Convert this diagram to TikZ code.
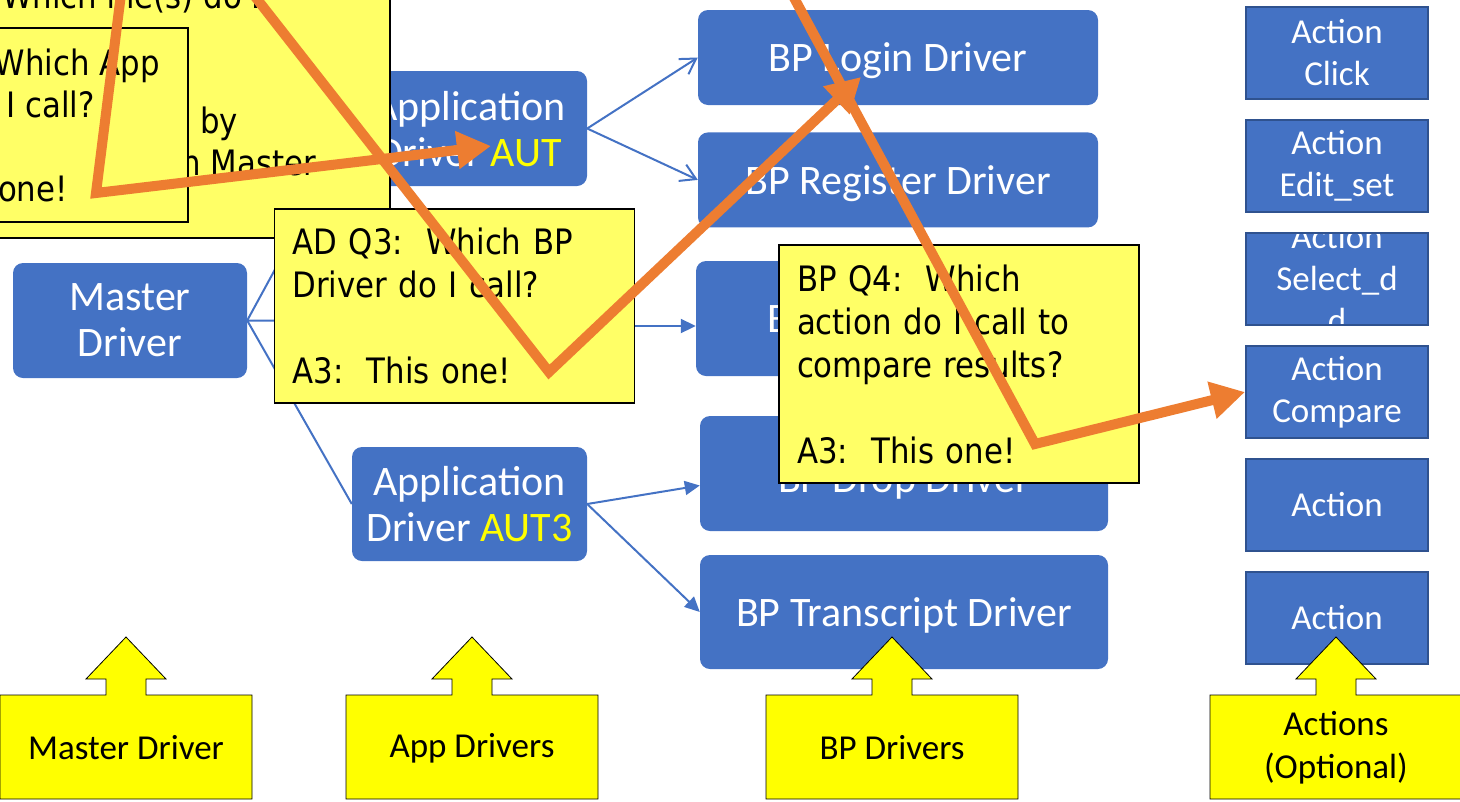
\documentclass[tikz,border=0pt]{standalone}
\usepackage{fontspec}
\setmainfont{Carlito}
\newfontfamily\notefont[FakeStretch=0.88]{DejaVu Sans}
\usetikzlibrary{arrows.meta, positioning}
\definecolor{drvblue}{HTML}{4472C4}
\definecolor{actedge}{HTML}{2F528F}
\definecolor{noteyellow}{HTML}{FFFF66}
\definecolor{tagyellow}{HTML}{FFFF00}
\definecolor{trailorange}{HTML}{ED7D31}
\tikzset{
driver/.style={fill=drvblue, text=white, rounded corners=10pt, align=center, inner sep=0pt,
  text depth=0pt, font=\fontsize{42}{46}\selectfont}, % the blue driver boxes
action/.style={fill=drvblue, draw=actedge, line width=2pt, text=white, align=center,
  inner sep=0pt, minimum width=182pt, minimum height=92pt,
  font=\fontsize{35}{42}\selectfont}, % square action boxes on the right
note/.style={fill=noteyellow, draw=black, line width=1.5pt, inner sep=0pt}, % sticky notes
notetext/.style={font=\notefont\fontsize{35}{43}\selectfont, align=left, inner sep=0pt},
tag/.style={fill=tagyellow, draw=black, line width=0.8pt}, % arrow labels at the bottom
tagtext/.style={font=\fontsize{35}{43}\selectfont, align=center},
link/.style={drvblue, line width=2pt},
callopen/.style={link, -{Straight Barb[length=15pt,width=18pt]}},
callfill/.style={link, -{Triangle[length=15pt,width=14pt]}},
trail/.style={trailorange, line width=10pt, -{Triangle[length=34pt,width=36pt]}}, % the orange path
}

\begin{document}
\begin{tikzpicture}[x=1pt, y=-1pt]
  \useasboundingbox (0,0) rectangle (1460,801);

  % drivers
  \node[driver, minimum width=234pt, minimum height=115pt] (master) at (130,320.5) {Master\\Driver};
  \node[driver, minimum width=235pt, minimum height=115pt] (aut) at (469.5,128.5) {Application\\Driver \textcolor{tagyellow}{AUT}};
  \node[driver, minimum width=235pt, minimum height=114pt] (aut3) at (469.5,504) {Application\\Driver \textcolor{tagyellow}{AUT3}};
  \node[driver, minimum width=400pt, minimum height=95pt] (login) at (898,57.5) {BP Login Driver};
  \node[driver, minimum width=400pt, minimum height=95pt, below=27pt of login] (register) {BP Register Driver};
  \node[driver, minimum width=402pt, minimum height=115pt] (bp3) at (897,318.5) {BP\hphantom{ Login} Driver};
  \node[driver, minimum width=408pt, minimum height=115pt, text height=37pt] (drop) at (904,473.5) {BP Drop Driver};
  \node[driver, minimum width=408pt, minimum height=114pt] (transcript) at (904,612) {BP Transcript Driver};
  \coordinate (aut2w) at (352,321); % hidden behind the AD note
  \coordinate (aut2e) at (587,326);

  \draw[link] (master.east) -- (aut.west);
  \draw[link] (master.east) -- (aut2w);
  \draw[link] (master.east) -- (aut3.west);
  \draw[callopen] (aut.east) -- (login.west);
  \draw[callopen] (aut.east) -- (register.west);
  \draw[callfill] (aut2e) -- (aut2e -| bp3.west);
  \draw[callfill] (aut3.east) -- ([yshift=-12pt]drop.west);
  \draw[callfill] (aut3.east) -- (transcript.west);

  % actions
  \node[action] (act1) at (1337,53) {Action\\Click};
  \node[action, below=19pt of act1] (act2) {Action\\Edit\_set};
  \node[action, below=19pt of act2, path picture={
    \node[text=white, align=center, inner sep=0pt, anchor=center, font=\fontsize{35}{42}\selectfont]
      at (path picture bounding box.center) {Action\\Select\_d\\d};}] (act3) {};
  \node[action, below=19pt of act3] (act4) {Action\\Compare};
  \node[action, below=19pt of act4] (act5) {Action};
  \node[action, below=19pt of act5] (act6) {Action};

  % bottom labels
  \foreach \x/\txt [count=\i] in {126/Master Driver, 472/App Drivers, 892/BP Drivers, 1336/{Actions\\(Optional)}} {
    \draw[tag] (\x-126,799) -- (\x-126,695) -- (\x-20,695) -- (\x-20,679) -- (\x-40,679) -- (\x,637)
      -- (\x+40,679) -- (\x+20,679) -- (\x+20,695) -- (\x+126,695) -- (\x+126,799) -- cycle;
    \node[tagtext] (tag\i) at (\x,748) {\txt};
  }

  % sticky notes
  \node[note, minimum width=400pt, minimum height=248pt] (filenote) at (190,114) {};
  \node[notetext, anchor=base west] (filetxt1) at (2,8) {Which file(s) do I};
  \node[notetext, anchor=base west] (filetxt2) at (200,133) {by};
  \node[notetext, anchor=base east] (filetxt3) at (316,175) {n Master};
  \node[note, minimum width=198pt, minimum height=194pt] (appnote) at (89,125) {};
  \node[notetext, anchor=base east] (apptxt1) at (160,75) {Which App};
  \node[notetext, anchor=base east] (apptxt2) at (95,117) {I call?};
  \node[notetext, anchor=base east] (apptxt3) at (68,201) {one!};
  \node[note, notetext, text width=324pt, inner xsep=18pt, minimum height=194pt] (adnote) at (454.5,306)
    {AD Q3:\ \ Which BP\\Driver do I call?\\~\\A3:\ \ This one!};
  \node[note, notetext, text width=324pt, inner xsep=18pt, minimum height=238pt] (bpnote) at (959,364)
    {BP Q4:\ \ Which\\action do I call to\\compare results?\\~\\A3:\ \ This one!};

  % orange path through the notes
  \coordinate (t1top) at (121,-6);
  \coordinate (t1bend) at (96,193);
  \coordinate (t1end) at (491,146);
  \coordinate (t2top) at (253,-6);
  \coordinate (t2bend) at (549,372);
  \coordinate (t2end) at (861,77);
  \coordinate (t3top) at (792,-6);
  \coordinate (t3bend) at (1035,444);
  \draw[trail] (t1top) -- (t1bend) -- (t1end);
  \draw[trail] (t2top) -- (t2bend) -- (t2end);
  \draw[trail] (t3top) -- (t3bend) -- (act4.west);

\end{tikzpicture}
\end{document}
